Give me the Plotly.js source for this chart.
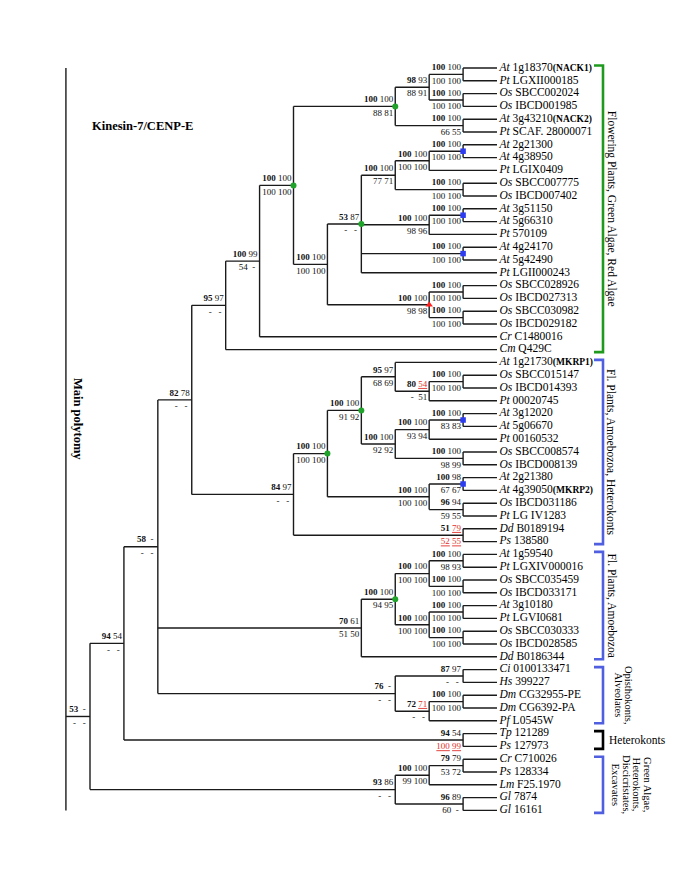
<!DOCTYPE html>
<html><head><meta charset="utf-8">
<script src="https://cdn.plot.ly/plotly-3.0.1.min.js"></script>
<style>html,body{margin:0;padding:0;background:#fff}#chart{width:685px;height:886px}</style>
</head><body><div id="chart"></div>
<script>
// ---------------- DATA ----------------
const taxa = ["At","Pt","Os","Os","At","Pt","At","At","Pt","Os","Os","At","At","Pt","At","At","Pt","Os","Os","Os","Os","Cr","Cm",
  "At","Os","Os","Pt","At","At","Pt","Os","Os","At","At","Os","Pt","Dd","Ps",
  "At","Pt","Os","Os","At","Pt","Os","Os","Dd",
  "Ci","Hs","Dm","Dm","Pf",
  "Tp","Ps",
  "Cr","Ps","Lm","Gl","Gl"];
const geneIds = ["1g18370","LGXII000185","SBCC002024","IBCD001985","3g43210","SCAF. 28000071","2g21300","4g38950","LGIX0409","SBCC007775","IBCD007402","3g51150","5g66310","570109","4g24170","5g42490","LGII000243","SBCC028926","IBCD027313","SBCC030982","IBCD029182","C1480016","Q429C",
  "1g21730","SBCC015147","IBCD014393","00020745","3g12020","5g06670","00160532","SBCC008574","IBCD008139","2g21380","4g39050","IBCD031186","LG IV1283","B0189194","138580",
  "1g59540","LGXIV000016","SBCC035459","IBCD033171","3g10180","LGVI0681","SBCC030333","IBCD028585","B0186344",
  "0100133471","399227","CG32955-PE","CG6392-PA","L0545W",
  "121289","127973",
  "C710026","128334","F25.1970","7874","16161"];
const geneTags = {0:"NACK1",4:"NACK2",23:"MKRP1",33:"MKRP2"};

// tree topology in Newick form (leaves = row index, internal nodes named)
const cladeH   = "(((0,1)H1a,(2,3)H1b)H1,(4,5)H2)H";
const cladeK   = "(((6,7)K1a,8)K1,(9,10)K2)K";
const cladeJ   = "(" + cladeK + ",((11,12)La,13)L,(14,15)M,16)J";
const cladeOS4 = "((17,18)OS4a,(19,20)OS4b)OS4";
const cladeG   = "(" + cladeH + ",(" + cladeJ + "," + cladeOS4 + ")I)G";
const cladeE   = "((" + cladeG + ",21)F,22)E";
const cladeO   = "((23,((24,25)O1b,26)O1a)O1,(((27,28)O2c,29)O2a,(30,31)O2b)O2)O";
const cladeG2  = "((" + cladeO + ",((32,33)Pa,(34,35)Pb)P)N,(36,37)DP)G2";
const cladeG3  = "((((38,39)G3d,(40,41)G3e)G3b,((42,43)G3f,(44,45)G3g)G3c)G3a,46)G3";
const cladeG4  = "((47,48)G4a,((49,50)G4c,51)G4b)G4";
const cladeC   = "((" + cladeE + "," + cladeG2 + ")D," + cladeG3 + "," + cladeG4 + ")C";
const cladeEXC = "(((54,55)EXc,56)EXa,(57,58)EXb)EXC";
const newick   = "(((" + cladeC + ",(52,53)HET)B," + cladeEXC + ")A)R";

const nodeNames  = ["R","A","B","C","D","E","F","G","H","H1","H1a","H1b","H2","I","J","K","K1","K1a","K2","L","La","M","OS4","OS4a","OS4b","G2","N","O","O1","O1a","O1b","O2","O2a","O2c","O2b","P","Pa","Pb","DP","G3","G3a","G3b","G3c","G3d","G3e","G3f","G3g","G4","G4a","G4b","G4c","HET","EXC","EXa","EXc","EXb"];
const nodeLevels = [0.29,1,2,3,4,5,6,7,10,11,12,12,12,8,9,10,11,12,12,11,12,12,11,12,12,7,8,9,10,11,12,10,11,12,12,11,12,12,12,9,10,11,11,12,12,12,12,10,12,11,12,12,10,11,12,12];
// support above branch (first value bold) / below branch ; "!" = red underlined
const supportTop = ["","53 -","94 54","58 -","82 78","95 97","100 99","100 100","100 100","98 93","100 100","100 100","100 100","100 100","53 87","100 100","100 100","100 100","100 100","100 100","100 100","100 100","100 100","100 100","100 100","84 97","100 100","100 100","95 97","80 54!","100 100","100 100","100 100","100 100","100 100","100 100","100 98","96 94","51 79!","70 61","100 100","100 100","100 100","100 100","100 100","100 100","100 100","76 -","87 97","72 71!","100 100","94 54","93 86","100 100","79 79","96 89"];
const supportBot = ["","- -","- -","- -","- -","- -","54 -","100 100","88 81","88 91","100 100","100 100","66 55","100 100","- -","77 71","100 100","100 100","100 100","98 96","100 100","100 100","98 98","100 100","100 100","- -","100 100","91 92","68 69","- 51","100 100","92 92","93 94","83 83","98 99","100 100","67 67","59 55","52! 55!","51 50","94 95","100 100","100 100","98 93","100 100","100 100","100 100","- -","- -","- -","100 100","100! 99!","- -","99 100","53 72","60 -"];
const greenNodes = ["G","H","J","N","O","G3a"];
const blueNodes  = ["K1a","La","M","O2c","Pa"];
const redNodes   = ["OS4"];

const groupFirst  = [0, 23, 38, 47, 52, 54];
const groupLast   = [22, 37, 46, 51, 53, 58];
const groupLabels = [["Flowering Plants, Green Algae, Red Algae"], ["Fl. Plants, Amoebozoa, Heterokonts"], ["Fl. Plants, Amoebozoa"],
                     ["Opisthokonts,","Alveolates"], ["Heterokonts"], ["Green Algae,","Heterokonts,","Discicristates,","Excavates"]];
const groupColors = ["#1f9a1f","#4f5fe0","#4f5fe0","#4f5fe0","#000000","#4f5fe0"];

// ---------------- LAYOUT CONSTANTS ----------------
const W = 685, H = 886;
const PX_LVL1 = 90, PX_PER_LVL = 33.917;   // horizontal scale
const PY_ROW0 = 68, PX_PER_ROW = 12.8;     // vertical scale
const LEAF_LVL = 13;
const xmin = 1 - PX_LVL1 / PX_PER_LVL, xmax = xmin + W / PX_PER_LVL;
const ymin = -PY_ROW0 / PX_PER_ROW, ymax = ymin + H / PX_PER_ROW;
const dxPx = p => p / PX_PER_LVL, dyPx = p => p / PX_PER_ROW;
const FONT = "Liberation Serif, Times New Roman, serif";
const labelCenterPx = [611, 611, 611, 624, 607, 631];
const labelLineGap = 10.5;
const labelFontSize = [11.5, 11.5, 11.5, 10.5, 11.5, 10.5];
const horizontalLabel = [false, false, false, false, true, false];

// ---------------- TREE ----------------
function parse(s){
  let i = 0;
  function node(){
    if (s[i] === '('){
      i++; const kids = [node()];
      while (s[i] === ','){ i++; kids.push(node()); }
      i++;
      let name = ''; while (i < s.length && /[A-Za-z0-9]/.test(s[i])) name += s[i++];
      return {name, kids};
    }
    let t = ''; while (/[0-9]/.test(s[i])) t += s[i++];
    return {leaf: +t};
  }
  return node();
}
const root = parse(newick);
const nodeMap = {};
function layoutNode(n){
  if (n.kids === undefined){ n.x = LEAF_LVL; n.y = n.leaf; return; }
  n.kids.forEach(layoutNode);
  const k = nodeNames.indexOf(n.name);
  n.x = nodeLevels[k];
  n.idx = k;
  n.y = (n.kids[0].y + n.kids[n.kids.length-1].y) / 2;
  nodeMap[n.name] = n;
}
layoutNode(root);

// branches
const lx = [], ly = [];
function addSeg(x0,y0,x1,y1){ lx.push(x0,x1,null); ly.push(y0,y1,null); }
function drawNode(n){
  if (!n.kids) return;
  if (n.kids.length > 1) addSeg(n.x, n.kids[0].y, n.x, n.kids[n.kids.length-1].y);
  n.kids.forEach(c => { addSeg(n.x, c.y, c.x, c.y); drawNode(c); });
}
drawNode(root);
// main polytomy line spans all rows
addSeg(root.x, 0, root.x, taxa.length - 1);

// support labels
function fmtTok(t, bold){
  let red = t.endsWith('!'); if (red) t = t.slice(0,-1);
  if (t === '-') t = '\u00a0-\u00a0';
  if (red) t = '<span style="color:#e0312b"><u>' + t + '</u></span>';
  if (bold) t = '<b>' + t + '</b>';
  return t;
}
const stx = [], sty = [], stt = [], sbx = [], sby = [], sbt = [];
Object.values(nodeMap).forEach(n => {
  const top = supportTop[n.idx], bot = supportBot[n.idx];
  if (!top) return;
  const tt = top.split(' '), bb = bot.split(' ');
  stx.push(n.x - dxPx(2)); sty.push(n.y - dyPx(6.5));
  stt.push(fmtTok(tt[0], true) + ' ' + fmtTok(tt[1], false));
  sbx.push(n.x - dxPx(2)); sby.push(n.y + dyPx(7));
  sbt.push(fmtTok(bb[0], false) + ' ' + fmtTok(bb[1], false));
});

// leaf labels
const leafText = taxa.map((t,i) => '<i>' + t + '</i> ' + geneIds[i] +
  (geneTags[i] ? '<span style="font-size:9.5px"><b>(' + geneTags[i] + ')</b></span>' : ''));
const leafX = taxa.map(() => LEAF_LVL + dxPx(2.5));
const leafY = taxa.map((t,i) => i);

function markerTrace(names, color, symbol, size){
  return {type:'scatter', mode:'markers', x:names.map(n=>nodeMap[n].x), y:names.map(n=>nodeMap[n].y),
    marker:{color, symbol, size, line:{width:0}}, hoverinfo:'skip'};
}

const traces = [
  {type:'scatter', mode:'lines', x:lx, y:ly, line:{color:'#1a1a1a', width:1.4}, hoverinfo:'skip'},
  markerTrace(greenNodes, '#1fa32a', 'circle', 6),
  markerTrace(blueNodes, '#2b3cf2', 'square', 5.5),
  markerTrace(redNodes, '#ff2020', 'triangle-up', 6.5),
  {type:'scatter', mode:'text', x:stx, y:sty, text:stt, textposition:'middle left',
   textfont:{family:FONT, size:9, color:'#111'}, hoverinfo:'skip'},
  {type:'scatter', mode:'text', x:sbx, y:sby, text:sbt, textposition:'middle left',
   textfont:{family:FONT, size:9, color:'#111'}, hoverinfo:'skip'},
  {type:'scatter', mode:'text', x:leafX, y:leafY, text:leafText, textposition:'middle right',
   textfont:{family:FONT, size:11.5, color:'#000'}, hoverinfo:'skip'}
];

// group brackets
const BR_X = 603, BR_TICK = 594;
const annotations = [];
groupFirst.forEach((f,i) => {
  const l = groupLast[i];
  const bx = xmin + dxPx(BR_X), tx = xmin + dxPx(BR_TICK);
  const y0 = f - dyPx(2.5), y1 = l + dyPx(2.5);
  traces.push({type:'scatter', mode:'lines', x:[tx,bx,bx,tx], y:[y0,y0,y1,y1],
    line:{color:groupColors[i], width:2.6}, hoverinfo:'skip'});
  const lines = groupLabels[i], n = lines.length;
  lines.forEach((txt, j) => {
    const horiz = horizontalLabel[i];
    const cx = labelCenterPx[i] + ((n-1)/2 - j) * labelLineGap;
    annotations.push({xref:'paper', yref:'y', x:cx/W, y:(f+l)/2,
      text:txt, showarrow:false, textangle: horiz ? 0 : 90,
      xanchor: horiz ? 'left' : 'center', yanchor:'middle',
      font:{family:FONT, size:labelFontSize[i], color:'#000'}});
  });
});
annotations.push({xref:'paper', yref:'paper', x:90/W, y:1-126/H, xanchor:'left', yanchor:'middle',
  text:'<b>Kinesin-7/CENP-E</b>', showarrow:false, font:{family:FONT, size:12.5, color:'#000'}});
annotations.push({xref:'paper', yref:'paper', x:78/W, y:1-419/H, xanchor:'center', yanchor:'middle',
  text:'<b>Main polytomy</b>', textangle:90, showarrow:false, font:{family:FONT, size:12.5, color:'#000'}});

const layout = {
  width:W, height:H, margin:{l:0,r:0,t:0,b:0}, paper_bgcolor:'#fff', plot_bgcolor:'#fff',
  showlegend:false, hovermode:false,
  xaxis:{range:[xmin,xmax], visible:false, fixedrange:true},
  yaxis:{range:[ymax,ymin], visible:false, fixedrange:true},
  annotations
};
Plotly.newPlot('chart', traces, layout, {staticPlot:true, displayModeBar:false});
</script>
</body></html>
